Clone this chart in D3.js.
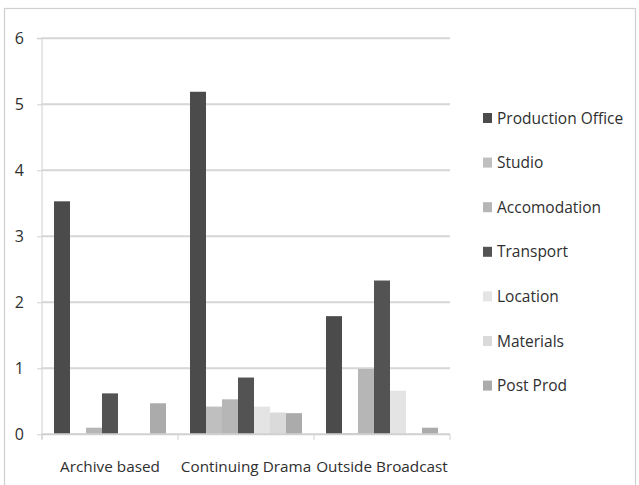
<!DOCTYPE html>
<html>
<head>
<meta charset="utf-8">
<script src="https://cdn.jsdelivr.net/npm/d3@7/dist/d3.min.js"></script>
<style>
  html, body { margin: 0; padding: 0; background: #fff; }
  svg { display: block; }
  text { font-family: "Open Sans", "Liberation Sans", sans-serif; fill: #2f2f2f; }
</style>
</head>
<body>
<svg id="chart" width="639" height="485"></svg>
<script>
// Categories of production and the cost groups within each
const categories = ["Archive based", "Continuing Drama", "Outside Broadcast"];
const seriesNames = ["Production Office", "Studio", "Accomodation", "Transport", "Location", "Materials", "Post Prod"];
const seriesColors = ["#4b4b4b", "#bfbfbf", "#b6b6b6", "#535353", "#e4e4e4", "#dadada", "#ababab"];

// Values per series, one entry per category
const productionOfficeCost = [3.53, 5.19, 1.79];
const studioCost           = [0.01, 0.42, 0.02];
const accomodationCost     = [0.10, 0.53, 0.99];
const transportCost        = [0.62, 0.86, 2.33];
const locationCost         = [0.00, 0.42, 0.66];
const materialsCost        = [0.00, 0.33, 0.01];
const postProdCost         = [0.47, 0.32, 0.10];
const seriesValues = [productionOfficeCost, studioCost, accomodationCost, transportCost, locationCost, materialsCost, postProdCost];

const yTicks = [0, 1, 2, 3, 4, 5, 6];

const svg = d3.select("#chart");

// Outer chart frame
svg.append("rect")
  .attr("x", 4.5).attr("y", 8.5)
  .attr("width", 631).attr("height", 490)
  .attr("fill", "none").attr("stroke", "#cfcfcf").attr("stroke-width", 1.2);

const plot = { left: 42, right: 450, top: 38.3, bottom: 434.3 };

const x0 = d3.scaleBand().domain(categories).range([plot.left, plot.right]).paddingInner(0).paddingOuter(0);
const x1 = d3.scaleBand().domain(seriesNames).range([0, x0.bandwidth()]).paddingInner(0).paddingOuter(0.75);
const y = d3.scaleLinear().domain([0, 6]).range([plot.bottom, plot.top]);

// Horizontal gridlines
svg.append("g").selectAll("line").data(yTicks.filter(d => d > 0)).join("line")
  .attr("x1", plot.left).attr("x2", plot.right)
  .attr("y1", d => y(d)).attr("y2", d => y(d))
  .attr("stroke", "#d6d6d6").attr("stroke-width", 2);

// Y axis
const yAxis = svg.append("g")
  .attr("transform", `translate(${plot.left},0)`)
  .call(d3.axisLeft(y).tickValues(yTicks).tickSize(5).tickPadding(13).tickFormat(d3.format("d")));
yAxis.select(".domain").attr("stroke", "#d0d0d0").attr("d", `M-5,${plot.top}H0V${plot.bottom + 5}`);
yAxis.selectAll(".tick line").attr("stroke", "#d0d0d0");
yAxis.selectAll(".tick text").attr("font-size", 16).attr("fill", "#2f2f2f")
  .style("font-family", "'Open Sans', sans-serif");

// Bars
const groups = svg.append("g").selectAll("g").data(categories).join("g")
  .attr("transform", d => `translate(${x0(d)},0)`);
groups.selectAll("rect")
  .data((c, ci) => seriesNames.map((s, si) => ({ s, si, v: seriesValues[si][ci] })))
  .join("rect")
  .attr("x", d => x1(d.s))
  .attr("width", x1.bandwidth())
  .attr("y", d => y(d.v))
  .attr("height", d => y(0) - y(d.v))
  .attr("fill", d => seriesColors[d.si]);

// X axis baseline and category boundary ticks
const xAxis = svg.append("g").attr("transform", `translate(0,${plot.bottom})`);
xAxis.append("line")
  .attr("x1", plot.left).attr("x2", plot.right)
  .attr("stroke", "#d0d0d0").attr("stroke-width", 2);
const boundaries = categories.map(c => x0(c)).concat([plot.right]);
xAxis.selectAll("line.bt").data(boundaries).join("line")
  .attr("class", "bt")
  .attr("x1", d => d).attr("x2", d => d).attr("y1", 0).attr("y2", 6)
  .attr("stroke", "#d0d0d0").attr("stroke-width", 1);
xAxis.selectAll("text").data(categories).join("text")
  .attr("x", d => x0(d) + x0.bandwidth() / 2)
  .attr("y", 38)
  .attr("text-anchor", "middle")
  .attr("font-size", 15.3)
  .text(d => d);

// Legend
const legend = svg.append("g").attr("transform", "translate(483,118)");
const rows = legend.selectAll("g").data(seriesNames).join("g")
  .attr("transform", (d, i) => `translate(0,${i * 44.6})`);
rows.append("rect")
  .attr("x", 0).attr("y", -5).attr("width", 9).attr("height", 10)
  .attr("fill", (d, i) => seriesColors[i]);
rows.append("text")
  .attr("x", 14).attr("y", 5.5)
  .attr("font-size", 15.5)
  .text(d => d);
</script>
</body>
</html>
